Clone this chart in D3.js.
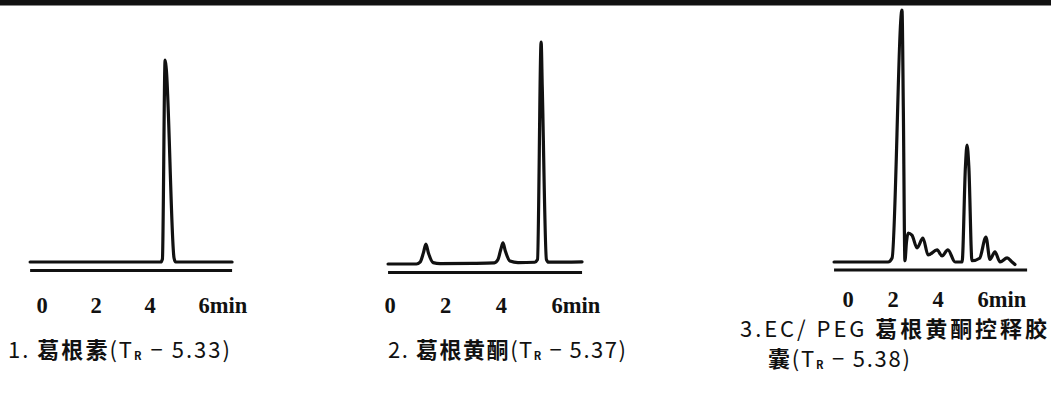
<!DOCTYPE html>
<html>
<head>
<meta charset="utf-8">
<script src="https://cdn.jsdelivr.net/npm/d3@7"></script>
<style>
  body { margin: 0; background: #fff; }
  svg { display: block; }
  .tick-label { font-family: "Liberation Serif", "DejaVu Serif", serif; font-weight: bold; font-size: 22.5px; fill: #111; }
  .caption { font-family: "Noto Sans CJK SC", sans-serif; font-size: 22px; fill: #111; }
  .caption .cjk { font-weight: bold; }
  .trace { fill: none; stroke: #111; stroke-width: 3.2; stroke-linejoin: round; stroke-linecap: round; }
  .axis-line { stroke: #111; stroke-width: 3; }
</style>
</head>
<body>
<svg id="chart" width="1051" height="393"></svg>
<script>
// chromatograms: [retention time (min), response in % of the tallest peak]
const puerarinTrace = [
  [-0.44, 0], [4.40, 0], [4.46, 1.5], [4.56, 100], [4.60, 96], [4.89, 2], [4.95, 0], [7.04, 0]
];
const flavoneTrace = [
  [-0.07, 0], [0.95, 0], [1.08, 0.8], [1.20, 5], [1.29, 9], [1.38, 5], [1.55, 0.6], [1.8, 0.2],
  [3.0, 0.3], [3.75, 0.5], [3.88, 2], [3.98, 6.5], [4.06, 9.5], [4.14, 6], [4.31, 1.3], [4.6, 0.6],
  [5.2, 0.8], [5.3, 2], [5.43, 100], [5.47, 80], [5.62, 2], [5.7, 0.8], [6.9, 1]
];
const capsuleTrace = [
  [-0.62, 0], [1.78, 0], [1.96, 1.6], [2.40, 100], [2.46, 60], [2.53, 0.5], [2.60, 8], [2.67, 11.5],
  [2.84, 10.7], [3.07, 5.6], [3.33, 9.5], [3.56, 2.8], [3.96, 4.8], [4.18, 2.4], [4.44, 4.8], [4.76, 0],
  [5.07, 0], [5.22, 38], [5.29, 46.4], [5.37, 38], [5.51, 0.5], [5.85, 1.5], [6.13, 9.9], [6.31, 1],
  [6.53, 4], [6.76, 0], [7.07, 1.6], [7.29, 0], [7.42, -1]
];

const tickValues = [0, 2, 4, 6];
const tickLabels = ["0", "2", "4", "6min"];

// caption pieces: [text, kind]
const caption1 = [["1. ", "lat"], ["葛根素", "cjk"], ["(T", "lat"], ["R", "sub"], [" − 5.33)", "lat"]];
const caption2 = [["2. ", "lat"], ["葛根黄酮", "cjk"], ["(T", "lat"], ["R", "sub"], [" − 5.37)", "lat"]];
const caption3a = [["3.EC/ PEG ", "lat"], ["葛根黄酮控释胶", "cjk"]];
const caption3b = [["囊", "cjk"], ["(T", "lat"], ["R", "sub"], [" − 5.38)", "lat"]];

const svg = d3.select("#chart");

// thick rule across the top of the figure
svg.append("rect").attr("x", 0).attr("y", 0).attr("width", 1051).attr("height", 5.5).attr("fill", "#111");

const panels = [
  { data: puerarinTrace, xr: [42, 204], yr: [262, 60], span: [-0.44, 7.04], tickY: 313, gap: 8.5 },
  { data: flavoneTrace, xr: [390, 557], yr: [264, 42], span: [-0.07, 6.9], tickY: 313, gap: 8.5 },
  { data: capsuleTrace, xr: [848, 983], yr: [262, 10], span: [-0.62, 7.96], tickY: 307, gap: 8 }
];

panels.forEach(p => {
  const x = d3.scaleLinear().domain([0, 6]).range(p.xr);
  const y = d3.scaleLinear().domain([0, 100]).range(p.yr);
  const g = svg.append("g");

  // lower reference line under the trace
  g.append("line")
    .attr("class", "axis-line")
    .attr("x1", x(p.span[0])).attr("x2", x(p.span[1]))
    .attr("y1", y(0) + p.gap).attr("y2", y(0) + p.gap);

  const line = d3.line()
    .x(d => x(d[0]))
    .y(d => y(d[1]))
    .curve(d3.curveMonotoneX);

  g.append("path").attr("class", "trace").attr("d", line(p.data));

  g.selectAll(".tick-label")
    .data(tickValues)
    .enter()
    .append("text")
    .attr("class", "tick-label")
    .attr("x", d => x(d) - 5.6)
    .attr("y", p.tickY)
    .text((d, i) => tickLabels[i]);
});

function caption(parts, x, y, len) {
  const t = svg.append("text").attr("class", "caption").attr("x", x).attr("y", y);
  let prevKind = null;
  parts.forEach(([s, kind]) => {
    const ts = t.append("tspan").text(s);
    if (kind === "cjk") ts.attr("class", "cjk");
    if (kind === "sub") ts.attr("font-size", "11px").attr("font-weight", "bold").attr("dy", 2);
    if (prevKind === "sub") ts.attr("dy", -2); // back to the baseline
    prevKind = kind;
  });
  if (len) t.attr("textLength", len).attr("lengthAdjust", "spacing");
}

caption(caption1, 8, 358, 222);
caption(caption2, 388, 358, 238);
caption(caption3a, 740, 337, 307);
caption(caption3b, 768, 367, 142);
</script>
</body>
</html>
